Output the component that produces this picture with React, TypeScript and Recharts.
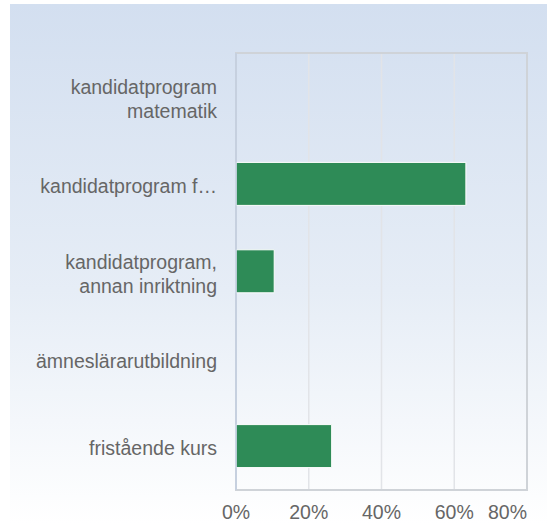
import { BarChart, Bar, XAxis, YAxis, CartesianGrid, ReferenceArea } from "recharts";

const categories = [
  "kandidatprogram\nmatematik",
  "kandidatprogram f…",
  "kandidatprogram,\nannan inriktning",
  "ämneslärarutbildning",
  "fristående kurs",
];
const shares = [0, 63.2, 10.5, 0, 26.3];
const xTicks = [0, 20, 40, 60, 80];

const data = categories.map((name, i) => ({ name, share: shares[i] }));

const FONT = "'Liberation Sans', Arial, sans-serif";
const FS = 19.5;

function CategoryTick(props: any) {
  const { x, y, payload } = props;
  const lines = String(payload.value).split("\n");
  const start = y + 9 - ((lines.length - 1) * 24) / 2;
  return (
    <text textAnchor="end" fill="#666" fontSize={FS} fontFamily={FONT}>
      {lines.map((l, i) => (
        <tspan key={i} x={x - 19} y={start + i * 24}>
          {l}
        </tspan>
      ))}
    </text>
  );
}

function PercentTick(props: any) {
  const { x, y, payload, index } = props;
  const last = index === xTicks.length - 1;
  return (
    <text
      x={x}
      y={y + 29}
      textAnchor={last ? "end" : "middle"}
      fill="#666"
      fontSize={FS}
      fontFamily={FONT}
    >
      {payload.value}%
    </text>
  );
}

export default function App() {
  return (
    <div style={{ position: "absolute", left: 0, top: 0, width: 547, height: 524, background: "#fff" }}>
      <div
        style={{
          position: "absolute",
          left: 10,
          top: 4,
          width: 537,
          height: 520,
          background: "linear-gradient(to bottom, #d3dff0 0%, #e6edf6 55%, #ffffff 100%)",
        }}
      >
        <BarChart
          width={537}
          height={520}
          data={data}
          layout="vertical"
          margin={{ top: 49, right: 20, left: 0, bottom: 0 }}
          barCategoryGap="25%"
        >
          <CartesianGrid horizontal={false} stroke="#e2e4e8" strokeWidth={1.5} />
          <XAxis
            type="number"
            domain={[0, 80]}
            ticks={xTicks}
            height={34}
            axisLine={{ stroke: "#cfd3d8", strokeWidth: 2 }}
            tickLine={false}
            tickSize={0}
            tickMargin={0}
            tick={<PercentTick />}
            interval={0}
          />
          <YAxis
            type="category"
            dataKey="name"
            width={226}
            axisLine={{ stroke: "#c3cfe2", strokeWidth: 1.5 }}
            tickLine={false}
            tickSize={0}
            tickMargin={0}
            tick={<CategoryTick />}
            interval={0}
          />
          <ReferenceArea x1={0} x2={80} fill="none" stroke="#cfd3d8" strokeWidth={2} />
          <Bar
            dataKey="share"
            fill="#2e8b57"
            stroke="#ffffff"
            strokeWidth={1}
            barSize={43}
            isAnimationActive={false}
          />
        </BarChart>
      </div>
    </div>
  );
}
